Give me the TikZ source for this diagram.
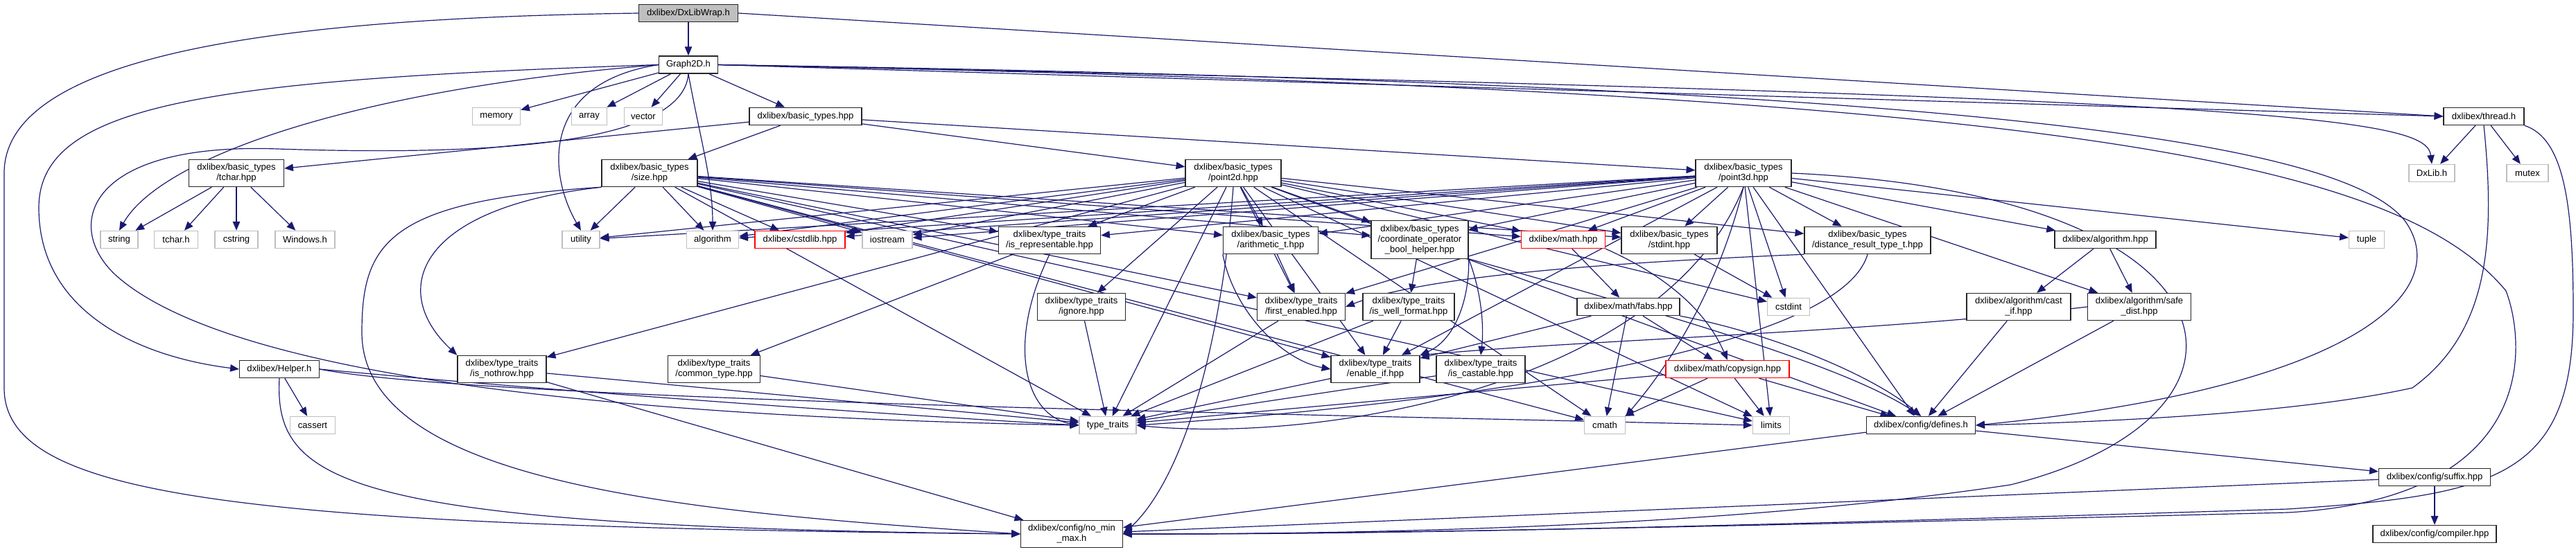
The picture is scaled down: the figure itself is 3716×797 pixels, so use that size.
\documentclass[tikz,border=0pt]{standalone}
\usepackage{fontspec}
\setmainfont{Liberation Sans}
\usepackage{tikz}
\usetikzlibrary{arrows.meta}
\definecolor{edgeblue}{HTML}{191970}
\definecolor{sysgray}{HTML}{BFBFBF}
\pgfdeclarelayer{background}
\pgfsetlayers{background,main}

\tikzset{
  hdr/.style={draw=black!85, fill=white, line width=0.9pt, align=center,
    inner xsep=0.5mm, inner ysep=1.5mm, minimum height=6.3mm,
    font=\fontsize{9.3}{10.7}\selectfont},
  sys/.style={hdr, draw=sysgray},
  miss/.style={hdr, draw=red},
  root/.style={hdr, fill=sysgray},
  boxw/.style={minimum width=#1*0.25mm},
  inc/.style={->, draw=edgeblue, line width=0.85pt},
}

\begin{document}
\begin{tikzpicture}[x=0.25mm,y=-0.25mm,>={Triangle[length=3.2mm,width=2.6mm]}]
	\useasboundingbox (0,0) rectangle (3716,797);

	% Top rows
	\node[root,boxw=143] (wrap) at (993,19) {dxlibex/DxLibWrap.h};
	\node[hdr,boxw=85] (graph) at (993,93.5) {Graph2D.h};
	\node[sys,boxw=69] (memory) at (716,168) {memory};
	\node[sys,boxw=51] (array) at (850,168) {array};
	\node[sys,boxw=55] (vector) at (928,168) {vector};
	\node[hdr,boxw=162] (btypes) at (1162,168) {dxlibex/basic\_types.hpp};
	\node[hdr,boxw=116] (thread) at (3583,168) {dxlibex/thread.h};

	% Basic types
	\node[hdr,boxw=137] (tcharhpp) at (341,250) {dxlibex/basic\_types\\/tchar.hpp};
	\node[hdr,boxw=138] (size) at (937,250) {dxlibex/basic\_types\\/size.hpp};
	\node[hdr,boxw=138] (ptwo) at (1779,250) {dxlibex/basic\_types\\/point2d.hpp};
	\node[hdr,boxw=138] (pthree) at (2515,250) {dxlibex/basic\_types\\/point3d.hpp};
	\node[sys,boxw=66] (dxlib) at (3508,250) {DxLib.h};
	\node[sys,boxw=60] (mutex) at (3646,250) {mutex};

	% Middle row
	\node[sys,boxw=54] (string) at (172,346) {string};
	\node[sys,boxw=63] (tcharh) at (254,346) {tchar.h};
	\node[sys,boxw=62] (cstring) at (341,346) {cstring};
	\node[sys,boxw=86] (windows) at (440,346) {Windows.h};
	\node[sys,boxw=54] (utility) at (838,346) {utility};
	\node[sys,boxw=75] (algorithm) at (1028,346) {algorithm};
	\node[miss,boxw=130] (cstdlib) at (1154,346) {dxlibex/cstdlib.hpp};
	\node[sys,boxw=72] (iostream) at (1280,346) {iostream};
	\node[hdr,boxw=147] (isrepr) at (1514,347) {dxlibex/type\_traits\\/is\_representable.hpp};
	\node[hdr,boxw=137] (arith) at (1833,347) {dxlibex/basic\_types\\/arithmetic\_t.hpp};
	\node[hdr,boxw=140] (coordop) at (2048,346) {dxlibex/basic\_types\\/coordinate\_operator\\\_bool\_helper.hpp};
	\node[miss,boxw=121] (math) at (2255,346) {dxlibex/math.hpp};
	\node[hdr,boxw=138] (stdint) at (2408,347) {dxlibex/basic\_types\\/stdint.hpp};
	\node[hdr,boxw=182] (distres) at (2694,347) {dxlibex/basic\_types\\/distance\_result\_type\_t.hpp};
	\node[hdr,boxw=146] (algohpp) at (3037,346) {dxlibex/algorithm.hpp};
	\node[sys,boxw=51] (tuple) at (3414,346) {tuple};

	% Traits row
	\node[hdr,boxw=127] (ignore) at (1560,443) {dxlibex/type\_traits\\/ignore.hpp};
	\node[hdr,boxw=127] (firsten) at (1877,443) {dxlibex/type\_traits\\/first\_enabled.hpp};
	\node[hdr,boxw=132] (wellfmt) at (2032,443) {dxlibex/type\_traits\\/is\_well\_format.hpp};
	\node[hdr,boxw=148] (fabs) at (2349,443) {dxlibex/math/fabs.hpp};
	\node[sys,boxw=61] (cstdint) at (2580,443) {cstdint};
	\node[hdr,boxw=150] (castif) at (2912,443) {dxlibex/algorithm/cast\\\_if.hpp};
	\node[hdr,boxw=149] (safedist) at (3086,443) {dxlibex/algorithm/safe\\\_dist.hpp};

	\node[hdr,boxw=115] (helper) at (403,533) {dxlibex/Helper.h};
	\node[hdr,boxw=128] (nothrow) at (724,533) {dxlibex/type\_traits\\/is\_nothrow.hpp};
	\node[hdr,boxw=133] (common) at (1030,533) {dxlibex/type\_traits\\/common\_type.hpp};
	\node[hdr,boxw=128] (enableif) at (1984,533) {dxlibex/type\_traits\\/enable\_if.hpp};
	\node[hdr,boxw=128] (castable) at (2136,533) {dxlibex/type\_traits\\/is\_castable.hpp};
	\node[miss,boxw=178] (copysign) at (2492,533) {dxlibex/math/copysign.hpp};

	% Bottom rows
	\node[sys,boxw=65] (cassert) at (451,614) {cassert};
	\node[sys,boxw=82] (typetraits) at (1598,614) {type\_traits};
	\node[sys,boxw=59] (cmath) at (2315,614) {cmath};
	\node[sys,boxw=53] (limits) at (2555,614) {limits};
	\node[hdr,boxw=157] (defines) at (2771,614) {dxlibex/config/defines.h};
	\node[hdr,boxw=161] (suffix) at (3512,689) {dxlibex/config/suffix.hpp};
	\node[hdr,boxw=147] (nominmax) at (1546,771) {dxlibex/config/no\_min\\\_max.h};
	\node[hdr,boxw=178] (compiler) at (3512,771) {dxlibex/config/compiler.hpp};

	\begin{pgfonlayer}{background}
	% DxLibWrap.h
	\draw[inc] (wrap) -- (graph);
	\draw[inc] (wrap.east) -- (thread.west);
	\draw[inc] (wrap.west) .. controls (500,25) and (6,60) .. (6,250) -- (6,560) .. controls (6,720) and (350,760) .. (nominmax.west);

	% Graph2D.h
	\foreach \t in {memory,array,vector,btypes}
		\draw[inc] (graph) -- (\t);
	\draw[inc] (graph.east) -- (thread.west);
	\draw[inc] (graph.east) .. controls (3300,140) and (3500,170) .. (dxlib.north);
	\draw[inc] (graph.west) .. controls (300,115) and (56,150) .. (56,300) .. controls (56,450) and (200,515) .. (helper.west);
	\draw[inc] (graph.west) .. controls (500,130) and (230,230) .. (string.north);
	\draw[inc] (graph.west) .. controls (780,120) and (790,250) .. (utility.north);
	\draw[inc] (graph.south) .. controls (1010,200) and (1028,260) .. (algorithm.north);
	\draw[inc] (graph.south) .. controls (985,210) and (700,225) .. (400,215) .. controls (120,205) and (90,330) .. (170,400) .. controls (320,530) and (800,600) .. (typetraits.west);
	\draw[inc] (graph.east) .. controls (2800,120) and (3380,200) .. (3470,320) .. controls (3540,420) and (3400,560) .. (defines.east);
	\draw[inc] (graph.east) .. controls (2900,130) and (3450,220) .. (3615,420) .. controls (3645,500) and (3660,720) .. (3300,740) .. controls (2500,760) and (2000,771) .. (nominmax.east);

	% thread.h
	\foreach \t in {dxlib,mutex}
		\draw[inc] (thread) -- (\t);
	\draw[inc] (thread.south) .. controls (3600,350) and (3590,480) .. (3480,560) .. controls (3300,600) and (3000,610) .. (defines.east);
	\draw[inc] (thread.south east) .. controls (3700,200) and (3712,300) .. (3712,450) .. controls (3712,690) and (3600,715) .. (3300,735) .. controls (2500,760) and (2000,772) .. (nominmax.east);

	% basic_types.hpp and tchar.hpp
	\foreach \t in {tcharhpp,size,ptwo,pthree}
		\draw[inc] (btypes) -- (\t);
	\foreach \t in {string,tcharh,cstring,windows}
		\draw[inc] (tcharhpp) -- (\t);

	% size.hpp
	\foreach \t in {utility,algorithm,cstdlib,iostream,isrepr,arith,coordop,math,stdint,firsten,enableif,typetraits,limits,cmath}
		\draw[inc] (size) -- (\t);
	\draw[inc] (size.south west) .. controls (600,300) and (560,420) .. (nothrow.north west);
	\draw[inc] (size.south west) .. controls (560,290) and (522,350) .. (522,480) .. controls (522,700) and (1000,740) .. (nominmax.west);

	% point2d.hpp
	\foreach \t in {utility,algorithm,cstdlib,iostream,isrepr,arith,coordop,math,stdint,distres,ignore,firsten,enableif,typetraits,cmath,limits,defines,cstdint,nothrow}
		\draw[inc] (ptwo) -- (\t);
	\draw[inc] (ptwo.south) .. controls (1760,520) and (1700,700) .. (nominmax.east);

	% point3d.hpp
	\foreach \t in {utility,algorithm,cstdlib,iostream,isrepr,arith,coordop,math,stdint,distres,algohpp,safedist,tuple,firsten,enableif,limits,defines,cstdint}
		\draw[inc] (pthree) -- (\t);
	\draw[inc] (pthree.south) .. controls (2400,560) and (1900,640) .. (typetraits.east);
	\draw[inc] (pthree.south) .. controls (2470,450) and (2380,560) .. (cmath.north east);
	\draw[inc] (pthree.east) .. controls (3250,280) and (3300,600) .. (2900,700) .. controls (2500,760) and (2000,771) .. (nominmax.east);

	% type traits and basic types
	\draw[inc] (isrepr) -- (common);
	\draw[inc] (isrepr.south) .. controls (1450,500) and (1480,600) .. (typetraits.west);
	\draw[inc] (arith) -- (firsten);
	\draw[inc] (arith.south west) .. controls (1780,450) and (1850,520) .. (enableif.west);
	\draw[inc] (coordop) -- (wellfmt);
	\draw[inc] (coordop.south east) .. controls (2120,430) and (2100,490) .. (enableif.north east);
	\draw[inc] (coordop.south east) .. controls (2140,430) and (2140,480) .. (castable.north);
	\draw[inc] (coordop.south east) .. controls (2500,480) and (2680,540) .. (defines.north);
	\draw[inc] (stdint) -- (cstdint);
	\draw[inc] (distres.south west) .. controls (2300,380) and (2050,400) .. (firsten.east);
	\draw[inc] (distres.south) .. controls (2650,520) and (2000,590) .. (typetraits.east);
	\foreach \s in {ignore,firsten,common,enableif,castable,nothrow,wellfmt}
		\draw[inc] (\s) -- (typetraits);
	\draw[inc] (wellfmt) -- (enableif);
	\draw[inc] (nothrow) -- (nominmax);

	% math
	\draw[inc] (math) -- (fabs);
	\draw[inc] (math.south east) .. controls (2430,410) and (2470,470) .. (copysign.north);
	\foreach \t in {enableif,cmath,copysign}
		\draw[inc] (fabs) -- (\t);
	\draw[inc] (fabs.south east) .. controls (2550,480) and (2700,540) .. (defines.north);
	\foreach \t in {cmath,limits,defines,typetraits}
		\draw[inc] (copysign) -- (\t);

	% algorithm
	\foreach \t in {castif,safedist}
		\draw[inc] (algohpp) -- (\t);
	\draw[inc] (castif) -- (defines);
	\draw[inc] (safedist) -- (defines);
	\draw[inc] (safedist.west) .. controls (2700,480) and (2300,490) .. (enableif.north east);

	% Helper.h
	\draw[inc] (helper) -- (cassert);
	\draw[inc] (helper.east) .. controls (800,565) and (1300,600) .. (typetraits.west);
	\draw[inc] (helper.east) .. controls (700,580) and (2000,600) .. (limits.west);
	\draw[inc] (helper.south) .. controls (395,700) and (500,760) .. (nominmax.west);

	% config
	\draw[inc] (defines) -- (suffix);
	\draw[inc] (defines) -- (nominmax);
	\draw[inc] (suffix) -- (compiler);
	\draw[inc] (suffix) -- (nominmax);
	\end{pgfonlayer}
\end{tikzpicture}
\end{document}
